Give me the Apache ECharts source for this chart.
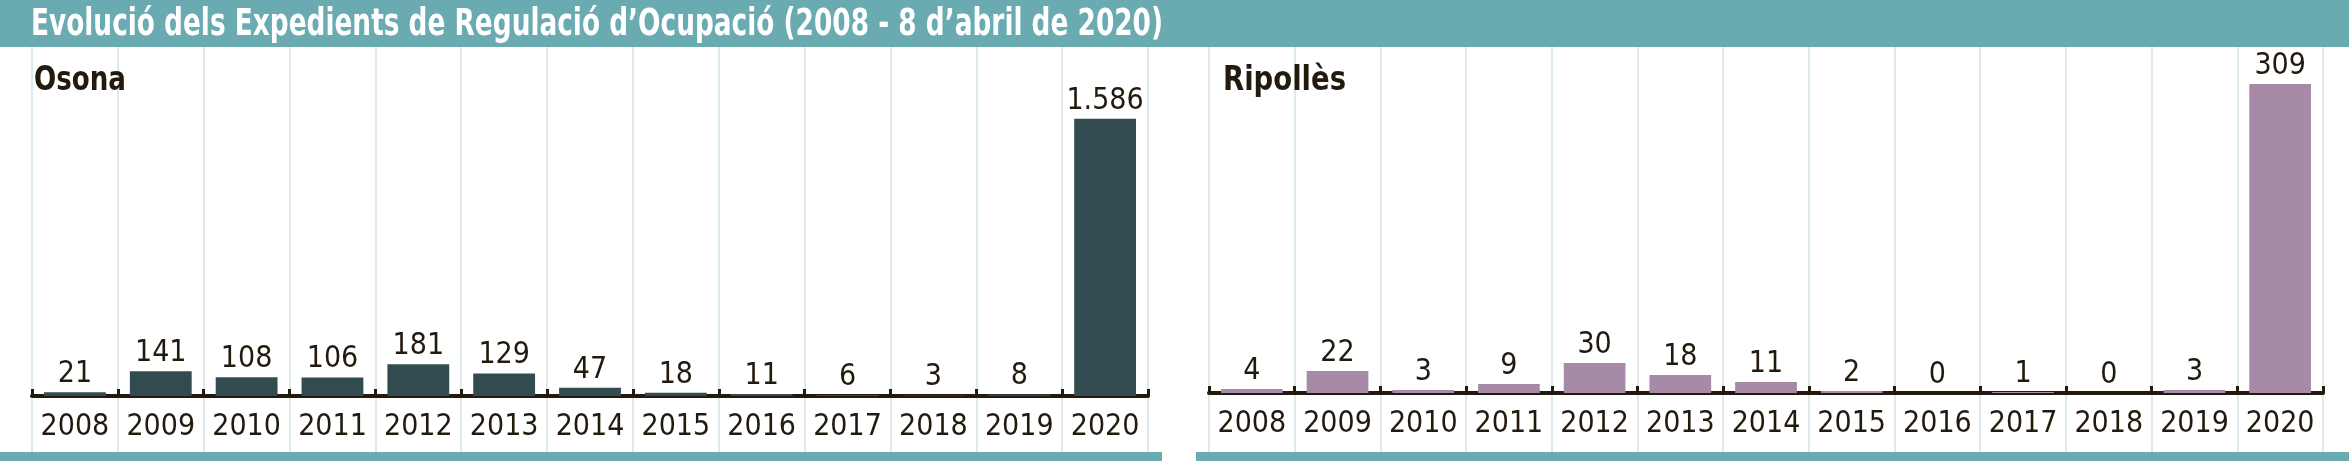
<!DOCTYPE html>
<html>
<head>
<meta charset="utf-8">
<script src="https://cdn.jsdelivr.net/npm/echarts@6/dist/echarts.min.js"></script>
<style>
html,body{margin:0;padding:0;background:#fff;}
#c{width:2349px;height:461px;}
</style>
</head>
<body>
<div id="c"></div>
<script>
const titleText = 'Evolució dels Expedients de Regulació d’Ocupació (2008 - 8 d’abril de 2020)';
const years = ['2008','2009','2010','2011','2012','2013','2014','2015','2016','2017','2018','2019','2020'];
const osonaName = 'Osona';
const osona = [21,141,108,106,181,129,47,18,11,6,3,8,1586];
const ripollesName = 'Ripollès';
const ripolles = [4,22,3,9,30,18,11,2,0,1,0,3,309];

const FONT = '"DejaVu Sans Condensed","Liberation Sans Narrow",sans-serif';
const DARK = '#231a0e';
const TEAL = '#6aabb1';
const GRIDC = '#d2e3e6';

function fmt(v){ return String(v).replace(/\B(?=(\d{3})+(?!\d))/g,'.'); }

const mctx = document.createElement('canvas').getContext('2d');
function measure(text, size, weight){
  mctx.font = weight + ' ' + size + 'px ' + FONT;
  return mctx.measureText(text).width;
}
// condensed text: fit a natural-width string into a target width
function squeezed(text, x, y, size, weight, color, targetW){
  const w = measure(text, size, weight);
  return {
    type:'text', x:x, y:y, scaleX: targetW / w, scaleY:1, originX:0, originY:0,
    style:{text:text, fill:color, fontFamily:FONT, fontSize:size, fontWeight:weight,
      align:'left', verticalAlign:'top'},
    z:10
  };
}

const chart = echarts.init(document.getElementById('c'), null, {renderer:'canvas'});

function mainX(gi){
  return {
    type:'category', gridIndex:gi, data:years, boundaryGap:true,
    axisLine:{show:true, lineStyle:{color:DARK, width:4}},
    axisTick:{show:true, inside:true, length:7, alignWithLabel:false, lineStyle:{color:DARK, width:3}},
    axisLabel:{show:true, interval:0, color:DARK, fontFamily:FONT, fontSize:30, margin:16},
    splitLine:{show:false}
  };
}
function gridX(gi){
  return {
    type:'category', gridIndex:gi, data:years, boundaryGap:true,
    axisLine:{show:false}, axisTick:{show:false}, axisLabel:{show:false},
    splitLine:{show:true, interval:0, lineStyle:{color:GRIDC, width:1.5}}
  };
}
function hiddenY(gi, max){
  return {type:'value', gridIndex:gi, min:0, max:max, show:false, splitLine:{show:false}};
}
function barSeries(name, data, gi, color){
  return {
    name:name, type:'bar', xAxisIndex:gi, yAxisIndex:gi, data:data,
    barCategoryGap:'28%',
    itemStyle:{color:color},
    label:{show:true, position:'top', distance:3, color:DARK, fontFamily:FONT, fontSize:30,
      formatter:p=>fmt(p.value)},
    z:3
  };
}

chart.setOption({
  animation:false,
  backgroundColor:'#fff',
  graphic:[
    {type:'rect', shape:{x:0,y:0,width:2349,height:47}, style:{fill:TEAL}, z:-10},
    {type:'rect', shape:{x:0,y:452,width:1162,height:9}, style:{fill:TEAL}, z:-10},
    {type:'rect', shape:{x:1196,y:452,width:1153,height:9}, style:{fill:TEAL}, z:-10},
    squeezed(titleText, 31, 7, 37, 'bold', '#fff', 1132),
    squeezed(osonaName, 34, 64, 34, 'bold', DARK, 92),
    squeezed(ripollesName, 1223, 64, 34, 'bold', DARK, 123)
  ],
  grid:[
    {left:32, right:1201, top:50, bottom:65},
    {left:1209, right:26, top:50, bottom:68},
    {left:32, right:1201, top:47, bottom:9},
    {left:1209, right:26, top:47, bottom:9}
  ],
  xAxis:[mainX(0), mainX(1), gridX(2), gridX(3)],
  yAxis:[hiddenY(0,1980), hiddenY(1,343), hiddenY(2,1), hiddenY(3,1)],
  series:[
    barSeries(osonaName, osona, 0, '#324b50'),
    barSeries(ripollesName, ripolles, 1, '#a78aa8')
  ]
});
</script>
</body>
</html>
